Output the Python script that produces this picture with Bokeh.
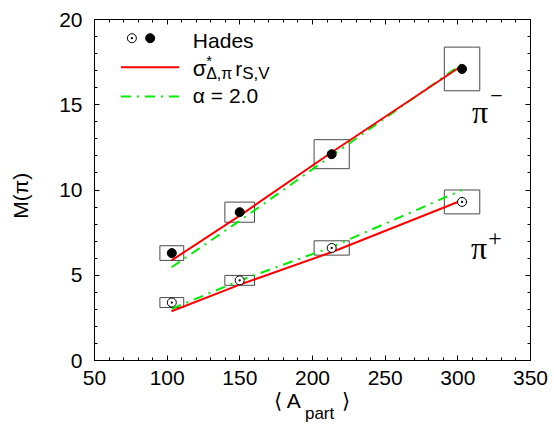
from bokeh.plotting import figure
from bokeh.models import (ColumnDataSource, Label, LinearAxis, Range1d,
                          SingleIntervalTicker)
from bokeh.embed import file_html
from bokeh.resources import INLINE

# ---------------- data ----------------
A_part = [103.2, 149.9, 213.2, 302.9]          # <A_part>
A_err = [8.2, 10.2, 12.1, 12.2]                # horizontal size of syst. boxes
M_pim = [6.3, 8.7, 12.1, 17.1]                 # Hades pi-  (filled)
M_pim_sys = [0.43, 0.59, 0.85, 1.28]
M_pip = [3.4, 4.7, 6.6, 9.3]                   # Hades pi+  (open)
M_pip_sys = [0.29, 0.29, 0.42, 0.70]

A_model = [103, 150, 213, 303]
sigma_pim = [5.87, 8.5, 12.2, 17.3]            # red  sigma*_{Delta,pi} r_{S,V}
sigma_pip = [2.89, 4.45, 6.35, 9.4]
alpha_pim = [5.47, 8.2, 12.0, 17.4]            # green alpha = 2.0
alpha_pip = [3.03, 4.69, 6.65, 10.0]

x_major, x_minor = 50, 5
y_major, y_minor = 5, 5

# ---------------- layout helpers ----------------
FX0, FX1, FY0, FY1 = 94.3, 530.5, 360.0, 19.0
XR, YR = (50, 350), (0, 20)
NB = "\u00a0"
LABEL_DY = -7   # correction for where Bokeh puts the alphabetic baseline


def px2x(px):
    return XR[0] + (px - FX0) * (XR[1] - XR[0]) / (FX1 - FX0)


def px2y(py):
    return YR[0] + (FY0 - py) * (YR[1] - YR[0]) / (FY0 - FY1)


SANS = "Liberation Sans"
SERIF = "Liberation Serif"
GREEN = "#00ee00"

p = figure(width=554, height=429, x_range=Range1d(*XR), y_range=Range1d(*YR),
           output_backend="svg", toolbar_location=None,
           min_border_left=94, min_border_right=24,
           min_border_top=19, min_border_bottom=69)
p.xgrid.grid_line_color = None
p.ygrid.grid_line_color = None
p.outline_line_color = "black"
p.background_fill_color = "white"
p.border_fill_color = "white"


def style_axis(ax, labels=True):
    ax.axis_line_color = "black"
    ax.axis_line_width = 1
    ax.major_tick_in = 5
    ax.major_tick_out = 0
    ax.minor_tick_in = 3
    ax.minor_tick_out = 0
    ax.major_tick_line_color = "black"
    ax.minor_tick_line_color = "black"
    if labels:
        ax.major_label_text_font = SANS
        ax.major_label_text_font_size = "21px"
        ax.major_label_text_color = "black"
    else:
        ax.major_label_text_font_size = "1px"
        ax.major_label_text_color = None
        ax.major_label_standoff = 0


p.xaxis.ticker = SingleIntervalTicker(interval=x_major, num_minor_ticks=x_minor)
p.yaxis.ticker = SingleIntervalTicker(interval=y_major, num_minor_ticks=y_minor)
xax = p.xaxis[0]
yax = p.yaxis[0]
style_axis(xax)
style_axis(yax)
xax.major_label_standoff = 10
yax.major_label_standoff = 12

# y-axis title
yax.axis_label = "M(π)" + NB * 2
yax.axis_label_text_font = SANS
yax.axis_label_text_font_style = "normal"
yax.axis_label_text_font_size = "21px"
yax.axis_label_text_color = "black"
yax.axis_label_standoff = 24

# x-axis title: "< A  >" on the main axis, subscript "part" on a second axis below
xax.axis_label = "⟨ A" + NB * 7 + "⟩"
xax.axis_label_text_font = SANS
xax.axis_label_text_font_style = "normal"
xax.axis_label_text_font_size = "21px"
xax.axis_label_text_color = "black"
xax.axis_label_standoff = 1

sub = LinearAxis(ticker=SingleIntervalTicker(interval=x_major, num_minor_ticks=0),
                 axis_line_color=None, major_tick_line_color=None,
                 minor_tick_line_color=None, major_label_text_color=None,
                 major_label_text_font_size="1px", major_label_standoff=0,
                 major_tick_in=0, major_tick_out=0, minor_tick_in=0, minor_tick_out=0,
                 axis_label=NB * 3 + "part", axis_label_text_font=SANS,
                 axis_label_text_font_style="normal", axis_label_text_font_size="17px",
                 axis_label_text_color="black", axis_label_standoff=-11)
p.add_layout(sub, "below")

top = LinearAxis(ticker=SingleIntervalTicker(interval=x_major, num_minor_ticks=x_minor))
right = LinearAxis(ticker=SingleIntervalTicker(interval=y_major, num_minor_ticks=y_minor))
style_axis(top, labels=False)
style_axis(right, labels=False)
p.add_layout(top, "above")
p.add_layout(right, "right")

# ---------------- systematic boxes ----------------
box_src = ColumnDataSource(dict(
    left=[a - e for a, e in zip(A_part, A_err)] * 2,
    right=[a + e for a, e in zip(A_part, A_err)] * 2,
    bottom=[m - s for m, s in zip(M_pim, M_pim_sys)] + [m - s for m, s in zip(M_pip, M_pip_sys)],
    top=[m + s for m, s in zip(M_pim, M_pim_sys)] + [m + s for m, s in zip(M_pip, M_pip_sys)],
))
p.quad(left="left", right="right", bottom="bottom", top="top", source=box_src,
       fill_color=None, line_color="#4a4a4a", line_width=1)

# ---------------- model lines ----------------
DASH = "10 6 2 6"
p.line(A_model, alpha_pim, line_color=GREEN, line_width=2, line_dash=DASH)
p.line(A_model, alpha_pip, line_color=GREEN, line_width=2, line_dash=DASH)
p.line(A_model, sigma_pim, line_color="red", line_width=2)
p.line(A_model, sigma_pip, line_color="red", line_width=2)

# ---------------- data points ----------------
p.scatter(A_part, M_pim, marker="circle", size=9, fill_color="black", line_color="black")
p.scatter(A_part, M_pip, marker="circle_dot", size=9, fill_color="white",
          line_color="black", line_width=1)

# ---------------- legend (drawn by hand) ----------------
p.scatter([px2x(131.7)], [px2y(37.7)], marker="circle_dot", size=9, fill_color="white",
          line_color="black", line_width=1)
p.scatter([px2x(150.0)], [px2y(37.7)], marker="circle", size=9, fill_color="black",
          line_color="black")
p.line([px2x(120.7), px2x(179)], [px2y(66.7)] * 2, line_color="red", line_width=2)
p.line([px2x(120.7), px2x(179)], [px2y(96)] * 2, line_color=GREEN, line_width=2,
       line_dash=DASH)


def lab(px, py, text, size, font=SANS, align="left", baseline="alphabetic"):
    dy = LABEL_DY if baseline == "alphabetic" else 0
    p.add_layout(Label(x=px2x(px), y=px2y(py + dy), text=text, text_font=font,
                       text_font_size=f"{size}px", text_align=align,
                       text_baseline=baseline, text_color="black"))


lab(192.7, 46.7, "Hades", 21)
lab(192.7, 75, "σ", 22)
lab(206, 67, "*", 15)
lab(206, 80, "Δ,π", 16)
lab(235, 75, "r", 21)
lab(242, 80, "S,V", 17)
lab(192.7, 101.7, "α = 2.0", 21)

# pi labels
lab(472, 118, "π", 32, font=SERIF)
lab(496.5, 95, "−", 22, font=SERIF, align="center", baseline="middle")
lab(471, 254, "π", 32, font=SERIF)
lab(495, 237.5, "+", 24, font=SERIF, align="center", baseline="middle")

open("out.html", "w").write(file_html(p, INLINE))
